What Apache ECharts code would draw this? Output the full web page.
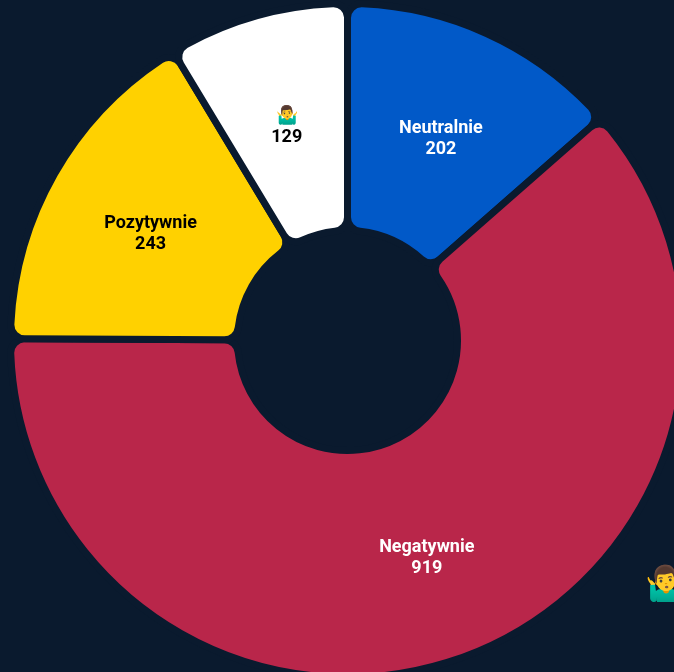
<!DOCTYPE html>
<html>
<head>
<meta charset="utf-8">
<script src="https://cdn.jsdelivr.net/npm/echarts@6/dist/echarts.min.js"></script>
<style>
html,body{margin:0;padding:0;background:#0a1a2e;}
#main{width:674px;height:672px;}
</style>
</head>
<body>
<div id="main"></div>
<script>
var categories = ['Neutralnie', 'Negatywnie', 'Pozytywnie', '🤷‍♂️'];
var values = [202, 919, 243, 129];
var colors = ['#0159c8', '#b9264a', '#ffd100', '#ffffff'];
var labelColors = ['#fff', '#fff', '#000', '#000'];
var bg = '#0a1a2e';

var chart = echarts.init(document.getElementById('main'));
var data = [];
for (var i = 0; i < categories.length; i++) {
    data.push({
        name: categories[i],
        value: values[i],
        itemStyle: {color: colors[i]},
        label: {color: labelColors[i]}
    });
}
chart.setOption({
    backgroundColor: bg,
    animation: false,
    graphic: [{
        // the stray emoji at the right edge of the picture
        type: 'text',
        left: 645,
        top: 569,
        style: {text: '🤷‍♂️', fontSize: 34, fill: '#fff'}
    }],
    series: [{
        type: 'pie',
        center: [347.5, 340.5],
        radius: [110, 337],
        startAngle: 90,
        itemStyle: {borderRadius: 14, borderWidth: 7, borderColor: bg},
        label: {
            position: 'inside',
            formatter: '{b}\n{c}',
            fontFamily: 'Roboto',
            fontWeight: 'bold',
            fontSize: 18,
            lineHeight: 21,
            offset: [0, 5]
        },
        labelLine: {show: false},
        data: data
    }]
});
</script>
</body>
</html>
